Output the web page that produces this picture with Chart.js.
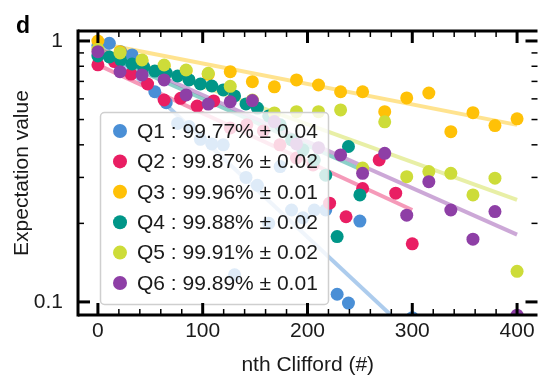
<!DOCTYPE html>
<html>
<head>
<meta charset="utf-8">
<script src="https://cdn.jsdelivr.net/npm/chart.js@4.4.0/dist/chart.umd.min.js"></script>
<style>
  html, body { margin: 0; padding: 0; background: #fff; }
  #wrap { width: 544px; height: 379px; }
</style>
</head>
<body>
<div id="wrap"><canvas id="myChart" width="544" height="379"></canvas></div>
<script>
// qubits, fidelities and colours
const qubits = ['Q1', 'Q2', 'Q3', 'Q4', 'Q5', 'Q6'];
const fidelities = ['99.77% \u00b1 0.04', '99.87% \u00b1 0.02', '99.96% \u00b1 0.01',
                    '99.88% \u00b1 0.02', '99.91% \u00b1 0.02', '99.89% \u00b1 0.01'];
const colors = ['#4a8fd6', '#e91e63', '#ffc107', '#009688', '#cddc39', '#8e3fa6'];

// nth Clifford positions
const xQ1 = [0, 10.9, 21.7, 32.6, 43.5, 54.3, 65.2, 76.1, 87, 97.8, 108.7, 119.6, 130.4, 141.3, 152.2, 163, 173.9, 184.8, 195.7, 206.5, 217.4, 228.3, 239.1, 250, 300];
const xQ2 = [0, 15.8, 31.6, 47.4, 63.2, 78.9, 94.7, 110.5, 126.3, 142.1, 157.9, 173.7, 189.5, 205.3, 221.1, 236.8, 252.6, 268.4, 284.2, 300];
const xQ3 = [0, 21.1, 42.1, 63.2, 84.2, 105.3, 126.3, 147.4, 168.4, 189.5, 210.5, 231.6, 252.6, 273.7, 294.7, 315.8, 336.8, 357.9, 378.9, 400];
const xQ4 = [0, 10.9, 21.7, 32.6, 43.5, 54.3, 65.2, 76.1, 87, 97.8, 108.7, 119.6, 130.4, 141.3, 152.2, 163, 173.9, 184.8, 195.7, 206.5, 217.4, 228.3, 239.1, 250];
const xQ5 = xQ3;
const xQ6 = xQ3;

// expectation values
const yQ1 = [0.96, 0.98, 0.91, 0.884, 0.80, 0.639, 0.58, 0.483, 0.47, 0.42, 0.403, 0.40, 0.127, 0.30, 0.28, 0.20, 0.33, 0.225, 0.21, 0.225, 0.225, 0.107, 0.099, 0.204, 0.087];
const yQ2 = [0.81, 0.834, 0.747, 0.684, 0.594, 0.603, 0.563, 0.589, 0.464, 0.477, 0.452, 0.40, 0.356, 0.335, 0.239, 0.212, 0.272, 0.35, 0.261, 0.167];
const yQ3 = [1.0, 0.91, 0.84, 0.80, 0.768, 0.745, 0.763, 0.698, 0.667, 0.709, 0.678, 0.639, 0.639, 0.536, 0.605, 0.632, 0.449, 0.531, 0.474, 0.503];
const yQ4 = [0.876, 0.868, 0.846, 0.816, 0.795, 0.767, 0.754, 0.734, 0.709, 0.684, 0.672, 0.649, 0.616, 0.574, 0.553, 0.516, 0.477, 0.418, 0.382, 0.35, 0.306, 0.178, 0.394, 0.257];
const yQ5 = [0.93, 0.90, 0.846, 0.809, 0.774, 0.752, 0.67, 0.594, 0.53, 0.536, 0.536, 0.544, 0.326, 0.49, 0.302, 0.316, 0.311, 0.257, 0.298, 0.131];
const yQ6 = [0.91, 0.763, 0.741, 0.709, 0.621, 0.573, 0.585, 0.591, 0.491, 0.403, 0.39, 0.366, 0.311, 0.371, 0.215, 0.289, 0.225, 0.174, 0.222, 0.089];

// fitted decays: value at x = 0 and at the end of each fit
const fitStart = [1.0, 0.81, 0.982, 0.907, 0.934, 0.936];
const fitEndX = [285, 300, 400, 250, 400, 400];
const fitEnd = [0.085, 0.225, 0.477, 0.323, 0.246, 0.181];

// ticks
const xTickLabels = [0, 100, 200, 300, 400];
const xMinorTicks = [0, 20, 40, 60, 80, 100, 120, 140, 160, 180, 200, 220, 240, 260, 280, 300, 320, 340, 360, 380, 400];
const yTickLabels = [0.1, 1];
const yMinorTicks = [0.1, 0.2, 0.3, 0.4, 0.5, 0.6, 0.7, 0.8, 0.9, 1];

const xs = [xQ1, xQ2, xQ3, xQ4, xQ5, xQ6];
const ys = [yQ1, yQ2, yQ3, yQ4, yQ5, yQ6];
const FONT = '"Liberation Sans", Arial, Helvetica, sans-serif';

function fade(hex, a) {
  const n = parseInt(hex.slice(1), 16);
  return 'rgba(' + (n >> 16) + ',' + ((n >> 8) & 255) + ',' + (n & 255) + ',' + a + ')';
}

const datasets = [];
qubits.forEach(function(q, i) {
  datasets.push({
    type: 'scatter',
    label: q,
    data: xs[i].map(function(v, j) { return {x: v, y: ys[i][j]}; }),
    backgroundColor: colors[i],
    borderWidth: 0,
    pointRadius: 6.5,
    order: 6 - i
  });
  datasets.push({
    type: 'line',
    label: q + ' fit',
    data: [{x: 0, y: fitStart[i]}, {x: fitEndX[i], y: fitEnd[i]}],
    borderColor: fade(colors[i], 0.45),
    borderWidth: 4,
    pointRadius: 0,
    fill: false,
    order: 20 - i
  });
});

// legend box drawn inside the plot, over the points
const legendBox = {
  id: 'legendBox',
  afterDatasetsDraw(chart) {
    const ctx = chart.ctx;
    ctx.save();
    ctx.beginPath();
    ctx.roundRect(100.5, 112.5, 228, 192, 4);
    ctx.fillStyle = 'rgba(255,255,255,0.82)';
    ctx.fill();
    ctx.strokeStyle = '#cfcfcf';
    ctx.lineWidth = 1.5;
    ctx.stroke();
    ctx.font = '21px ' + FONT;
    ctx.textBaseline = 'middle';
    qubits.forEach(function(q, i) {
      const cy = 131 + i * 30.4;
      ctx.beginPath();
      ctx.arc(120, cy, 7, 0, 2 * Math.PI);
      ctx.fillStyle = colors[i];
      ctx.fill();
      ctx.fillStyle = '#1a1a1a';
      ctx.fillText(q + ' : ' + fidelities[i], 137, cy + 1);
    });
    ctx.restore();
  }
};

// spines, inward ticks and panel letter
const frame = {
  id: 'frame',
  afterDraw(chart) {
    const ctx = chart.ctx;
    const a = chart.chartArea;
    const x = chart.scales.x, y = chart.scales.y;
    ctx.save();
    ctx.strokeStyle = '#000';
    ctx.lineCap = 'butt';
    function seg(x1, y1, x2, y2, w) {
      ctx.lineWidth = w;
      ctx.beginPath();
      ctx.moveTo(x1, y1);
      ctx.lineTo(x2, y2);
      ctx.stroke();
    }
    seg(a.left, a.top, a.right, a.top, 3);
    seg(a.left, a.bottom, a.right, a.bottom, 3);
    seg(a.left, a.top - 1.5, a.left, a.bottom + 1.5, 3);
    xMinorTicks.forEach(function(v) {
      const px = x.getPixelForValue(v);
      const major = xTickLabels.indexOf(v) >= 0;
      const len = major ? 12 : 6;
      const w = major ? 3 : 1.5;
      seg(px, a.bottom, px, a.bottom - len, w);
      seg(px, a.top, px, a.top + len, w);
    });
    yMinorTicks.forEach(function(v) {
      const py = y.getPixelForValue(v);
      const major = yTickLabels.indexOf(v) >= 0;
      const len = major ? 12 : 6;
      const w = major ? 3 : 1.5;
      seg(a.left, py, a.left + len, py, w);
      seg(a.right, py, a.right - len, py, w);
    });
    ctx.fillStyle = '#000';
    ctx.font = 'bold 23px ' + FONT;
    ctx.textBaseline = 'alphabetic';
    ctx.fillText('d', 16, 33);
    ctx.restore();
  }
};

window.addEventListener('load', function() {
  let ctx = document.getElementById('myChart').getContext('2d');
  let chart = new Chart(ctx, {
    type: 'scatter',
    data: { datasets: datasets },
    options: {
      responsive: false,
      animation: false,
      devicePixelRatio: 1,
      layout: { padding: { top: 31, right: 0, left: 0, bottom: 0 } },
      plugins: { legend: { display: false }, tooltip: { enabled: false } },
      scales: {
        x: {
          type: 'linear',
          min: -19,
          max: 419.5,
          grid: { display: false, drawTicks: false },
          border: { display: false },
          afterBuildTicks: function(s) { s.ticks = xTickLabels.map(function(v) { return {value: v}; }); },
          afterFit: function(s) { s.height = 64; },
          ticks: { padding: 4, color: '#1a1a1a', font: { family: FONT, size: 21 }, maxRotation: 0 },
          title: { display: true, text: 'nth Clifford (#)', color: '#1a1a1a', font: { family: FONT, size: 21 }, padding: { top: 0, bottom: 1 } }
        },
        y: {
          type: 'logarithmic',
          min: 0.0891,
          max: 1.092,
          grid: { display: false, drawTicks: false },
          border: { display: false },
          afterBuildTicks: function(s) { s.ticks = yTickLabels.map(function(v) { return {value: v}; }); },
          afterFit: function(s) { s.width = 78; },
          ticks: {
            padding: 15, color: '#1a1a1a', font: { family: FONT, size: 21 },
            callback: function(v) { return String(v); }
          },
          title: { display: true, text: 'Expectation value', color: '#1a1a1a', font: { family: FONT, size: 21 }, padding: { top: 10, bottom: 0 } }
        }
      }
    },
    plugins: [legendBox, frame]
  });
});
</script>
</body>
</html>
